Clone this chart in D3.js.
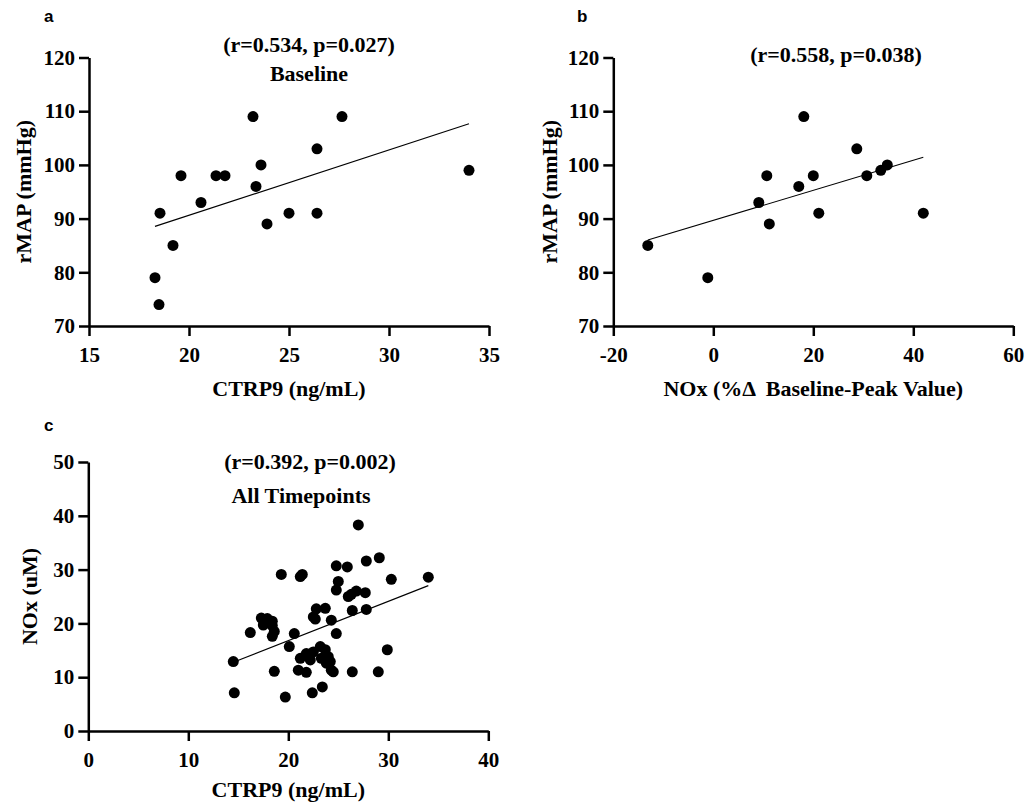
<!DOCTYPE html>
<html>
<head>
<meta charset="utf-8">
<script src="https://cdn.jsdelivr.net/npm/d3@7"></script>
<style>
  html, body { margin: 0; padding: 0; background: #fff; }
  svg { display: block; }
  .serif { font-family: "Liberation Serif", "Times New Roman", serif; font-weight: bold; }
  .sans { font-family: "Liberation Sans", Arial, sans-serif; font-weight: bold; }
</style>
</head>
<body>
<svg id="chart" width="1026" height="803"></svg>
<script>
// ---- Panel a: CTRP9 vs rMAP at baseline ----
const aCTRP9 = [18.3, 18.5, 18.55, 19.2, 19.6, 20.6, 21.35, 21.8, 23.2, 23.35, 23.6, 23.9, 25.0, 26.4, 26.4, 27.65, 34.0];
const aRMAP  = [79,   74,   91,    85,   98,   93,   98,    98,   109,  96,    100,  89,   91,   103,  91,   109,   99];
const aFit = [1.216, 66.3];            // slope, intercept
const aXTicks = [15, 20, 25, 30, 35];
const aYTicks = [70, 80, 90, 100, 110, 120];

// ---- Panel b: NOx %change vs rMAP ----
const bNOx  = [-13.1, -1.1, 9.1, 10.7, 11.2, 17.1, 18.1, 20.0, 21.1, 28.7, 30.7, 33.5, 34.8, 42.0];
const bRMAP = [85,    79,   93,  98,   89,   96,   109,  98,   91,   103,  98,   99,   100,  91];
const bFit = [0.28, 89.67];
const bXTicks = [-20, 0, 20, 40, 60];
const bYTicks = [70, 80, 90, 100, 110, 120];

// ---- Panel c: CTRP9 vs NOx, all timepoints ----
const cCTRP9 = [27.0, 29.1, 27.8, 24.8, 25.9, 19.3, 21.2, 21.4, 34.0, 30.3, 25.0, 24.8, 26.0, 26.3, 26.8, 27.7,
                26.4, 27.8, 22.8, 23.7, 22.5, 22.7, 24.3,
                17.3, 17.9, 18.4, 17.5, 18.4, 18.6, 18.4,
                16.2, 20.6, 24.8, 20.1, 29.9,
                21.2, 21.8, 22.5, 23.2, 23.7, 24.0, 24.2, 22.2, 23.3, 23.8, 24.3, 24.5,
                14.5, 14.6, 18.6, 21.0, 21.8, 26.4, 29.0, 23.4, 22.4, 19.7];
const cNOx   = [38.3, 32.2, 31.6, 30.7, 30.5, 29.1, 28.7, 29.1, 28.6, 28.2, 27.8, 26.2, 25.0, 25.4, 26.0, 25.7,
                22.4, 22.6, 22.7, 22.8, 21.2, 20.8, 20.6,
                21.0, 20.9, 20.4, 19.7, 19.6, 18.5, 17.6,
                18.3, 18.1, 18.1, 15.7, 15.1,
                13.5, 14.4, 14.7, 15.7, 15.1, 13.8, 12.9, 13.2, 13.5, 12.6, 11.3, 11.0,
                12.9, 7.1, 11.1, 11.3, 10.9, 11.0, 11.0, 8.2, 7.1, 6.3];
const cFit = [0.73, 2.2];
const cXTicks = [0, 10, 20, 30, 40];
const cYTicks = [0, 10, 20, 30, 40, 50];

const svg = d3.select("#chart");
svg.append("rect").attr("width", 1026).attr("height", 803).attr("fill", "#fff");

function panel(cfg) {
  const x = d3.scaleLinear().domain(cfg.xDomain).range(cfg.xRange);
  const y = d3.scaleLinear().domain(cfg.yDomain).range(cfg.yRange);
  const g = svg.append("g");

  const xAxis = g.append("g")
    .attr("transform", `translate(0,${cfg.yRange[0]})`)
    .call(d3.axisBottom(x).tickValues(cfg.xTicks).tickFormat(d => String(d))
      .tickSize(10).tickSizeOuter(0).tickPadding(11));
  const yAxis = g.append("g")
    .attr("transform", `translate(${cfg.xRange[0]},0)`)
    .call(d3.axisLeft(y).tickValues(cfg.yTicks).tickFormat(d => String(d))
      .tickSize(10).tickSizeOuter(0).tickPadding(4));
  [xAxis, yAxis].forEach(ax => {
    ax.select(".domain").attr("stroke", "#000").attr("stroke-width", 2.5);
    ax.selectAll(".tick line").attr("stroke", "#000").attr("stroke-width", 2.5);
    ax.selectAll(".tick text").attr("class", "serif").attr("fill", "#000")
      .style("font-size", "21px");
  });

  // regression line
  const xs = cfg.xs;
  const x0 = d3.min(xs), x1 = d3.max(xs);
  g.append("line")
    .attr("x1", x(x0)).attr("y1", y(cfg.fit[0] * x0 + cfg.fit[1]))
    .attr("x2", x(x1)).attr("y2", y(cfg.fit[0] * x1 + cfg.fit[1]))
    .attr("stroke", "#000").attr("stroke-width", 1.1);

  // points
  g.selectAll("circle.pt").data(xs.map((v, i) => [v, cfg.ys[i]])).join("circle")
    .attr("class", "pt")
    .attr("cx", d => x(d[0])).attr("cy", d => y(d[1])).attr("r", 5.5).attr("fill", "#000");

  // axis titles
  const xc = (cfg.xRange[0] + cfg.xRange[1]) / 2;
  const yc = (cfg.yRange[0] + cfg.yRange[1]) / 2;
  g.append("text").attr("class", "serif").attr("x", xc).attr("y", cfg.xTitleY)
    .attr("text-anchor", "middle").style("font-size", "22px").attr("fill", "#000")
    .style("white-space", "pre").text(cfg.xTitle);
  g.append("text").attr("class", "serif")
    .attr("transform", `translate(${cfg.yTitleX},${yc}) rotate(-90)`)
    .attr("text-anchor", "middle").style("font-size", "22px").attr("fill", "#000")
    .text(cfg.yTitle);

  // annotations
  cfg.notes.forEach(n => {
    g.append("text").attr("class", "serif").attr("x", n.x).attr("y", n.y)
      .attr("text-anchor", "middle").style("font-size", "22px").attr("fill", "#000")
      .text(n.t);
  });

  // panel letter
  g.append("text").attr("class", "sans").attr("x", cfg.letter.x).attr("y", cfg.letter.y)
    .style("font-size", "17px").attr("fill", "#000").text(cfg.letter.t);
}

panel({
  xDomain: [15, 35], xRange: [89, 489], yDomain: [70, 120], yRange: [326, 57.5],
  xTicks: aXTicks, yTicks: aYTicks, xs: aCTRP9, ys: aRMAP, fit: aFit,
  xTitle: "CTRP9 (ng/mL)", xTitleY: 396, yTitle: "rMAP (mmHg)", yTitleX: 31,
  notes: [{t: "(r=0.534, p=0.027)", x: 309, y: 52}, {t: "Baseline", x: 309, y: 81}],
  letter: {t: "a", x: 44, y: 22}
});

panel({
  xDomain: [-20, 60], xRange: [613.3, 1013.3], yDomain: [70, 120], yRange: [326, 57.5],
  xTicks: bXTicks, yTicks: bYTicks, xs: bNOx, ys: bRMAP, fit: bFit,
  xTitle: "NOx (%\u0394  Baseline-Peak Value)", xTitleY: 396, yTitle: "rMAP (mmHg)", yTitleX: 557,
  notes: [{t: "(r=0.558, p=0.038)", x: 836, y: 62}],
  letter: {t: "b", x: 577, y: 22}
});

panel({
  xDomain: [0, 40], xRange: [88.3, 488.3], yDomain: [0, 50], yRange: [731, 462],
  xTicks: cXTicks, yTicks: cYTicks, xs: cCTRP9, ys: cNOx, fit: cFit,
  xTitle: "CTRP9 (ng/mL)", xTitleY: 797, yTitle: "NOx (uM)", yTitleX: 37,
  notes: [{t: "(r=0.392, p=0.002)", x: 310, y: 469}, {t: "All Timepoints", x: 301, y: 503}],
  letter: {t: "c", x: 44, y: 431}
});
</script>
</body>
</html>
